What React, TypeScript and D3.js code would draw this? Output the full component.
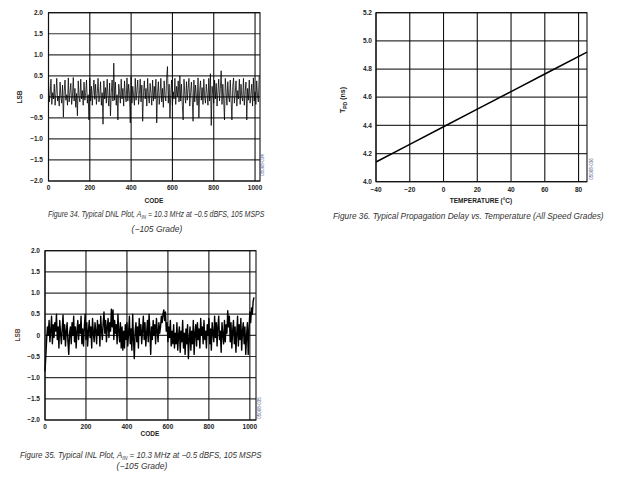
import React, { useLayoutEffect, useRef, useState } from "react";
import * as d3 from "d3";

// ---------- DATA ----------
const DNL_STEP = 4; // codes between samples
const DNL_VALUES = [
  0.38, -0.12, 0.05, 0.42, -0.18, 0.1, -0.05, 0.3, -0.2, 0.08, 0.44, -0.1, 0.02, -0.22, 0.35, 0.0,
  -0.15, 0.28, -0.48, 0.12, 0.4, -0.08, 0.05, -0.2, 0.45, -0.12, 0.1, 0.32, -0.18, 0.02, 0.46, -0.1,
  0.2, -0.25, 0.08, -0.45, 0.38, 0.0, -0.12, 0.42, -0.05, 0.15, -0.2, 0.35, -0.08, 0.1, 0.4, -0.15,
  0.05, -0.55, 0.45, -0.1, 0.25, -0.2, 0.12, 0.4, -0.06, 0.3, -0.18, 0.08, 0.44, -0.12, 0.0, 0.36,
  -0.2, 0.1, -0.65, 0.38, -0.05, 0.22, -0.15, 0.42, 0.02, -0.22, 0.33, -0.45, 0.1, 0.4, -0.1, 0.8,
  -0.08, 0.35, -0.2, 0.05, -0.55, 0.3, 0.12, -0.15, 0.42, -0.05, 0.2, -0.22, 0.38, 0.0, -0.12, 0.45,
  -0.1, 0.3, 0.05, -0.62, 0.48, -0.15, 0.25, 0.02, -0.2, 0.44, -0.08, 0.15, 0.4, -0.18, 0.06, 0.42,
  -0.12, 0.28, -0.58, 0.1, 0.38, -0.05, 0.2, -0.22, 0.44, 0.0, -0.15, 0.32, 0.08, -0.2, 0.4, -0.1,
  0.25, -0.05, 0.42, -0.62, 0.1, 0.36, -0.18, 0.05, 0.44, -0.12, 0.2, -0.25, 0.38, 0.02, -0.1, 0.45,
  0.72, -0.15, 0.3, -0.5, 0.08, 0.4, -0.2, 0.12, -0.05, 0.44, -0.18, 0.25, 0.0, 0.38, -0.12, 0.5,
  -0.1, 0.3, -0.2, -0.55, 0.42, 0.05, -0.15, 0.36, -0.08, 0.2, 0.44, -0.22, 0.1, 0.35, -0.05, -0.58,
  0.4, -0.12, 0.28, 0.02, -0.2, 0.45, -0.5, 0.15, 0.38, -0.08, 0.22, -0.18, 0.42, 0.0, -0.15, 0.3,
  0.08, -0.2, 0.44, -0.1, 0.55, -0.68, 0.25, 0.05, -0.15, 0.4, -0.05, 0.32, -0.22, 0.12, 0.42, -0.1,
  0.2, 0.62, -0.18, 0.3, -0.05, -0.55, 0.44, 0.1, -0.2, 0.36, 0.02, -0.12, 0.4, -0.08, -0.55, 0.25,
  0.45, -0.15, 0.08, 0.38, -0.22, 0.15, -0.05, 0.42, -0.18, 0.3, 0.0, -0.1, 0.44, -0.2, 0.12, 0.35,
  -0.55, 0.2, -0.08, 0.4, -0.15, 0.05, 0.3, -0.22, 0.45, -0.1, 0.12, -0.18, 0.38, 0.02, -0.12, 0.5,
];

const INL_STEP = 4;
const INL_VALUES = [
  -0.85, -0.5, -0.1, 0.2, 0.0, 0.35, -0.15, 0.1, 0.45, -0.2, 0.25, -0.05, 0.3, 0.1, 0.5, -0.1,
  0.2, -0.3, 0.35, 0.05, -0.2, 0.15, 0.48, -0.1, 0.25, -0.25, 0.1, 0.3, -0.15, -0.45, 0.05, 0.2,
  -0.2, 0.3, 0.0, 0.45, -0.15, 0.2, -0.3, 0.1, 0.35, -0.1, 0.25, 0.05, 0.45, -0.2, 0.15, -0.25,
  0.2, 0.5, -0.1, 0.3, -0.25, 0.1, 0.35, -0.05, 0.2, -0.3, 0.4, 0.05, -0.15, 0.3, 0.1, -0.2,
  0.35, 0.0, 0.25, -0.25, 0.45, 0.1, -0.1, 0.3, 0.55, 0.05, 0.35, -0.15, 0.2, 0.4, -0.05, 0.3,
  0.1, 0.62, 0.2, 0.6, -0.1, 0.35, 0.05, 0.25, -0.2, 0.5, 0.1, -0.15, 0.3, -0.3, 0.2, -0.35,
  0.1, -0.3, 0.25, -0.1, 0.3, -0.25, 0.05, 0.45, -0.2, 0.15, -0.35, 0.5, -0.1, -0.55, 0.1, 0.3,
  -0.15, 0.2, -0.3, 0.4, 0.0, 0.25, -0.2, 0.1, 0.45, -0.1, 0.3, -0.25, 0.05, 0.35, -0.15, 0.5,
  0.1, -0.45, 0.2, -0.1, 0.35, 0.0, 0.25, -0.2, 0.4, 0.1, -0.15, 0.3, 0.05, 0.2, 0.45, 0.3,
  0.5, 0.6, 0.35, 0.55, 0.1, 0.3, -0.15, 0.2, -0.05, 0.35, -0.25, 0.1, -0.2, 0.25, -0.3, 0.05,
  -0.2, 0.3, -0.35, 0.0, 0.2, -0.4, 0.1, -0.15, 0.35, -0.3, 0.05, -0.45, 0.15, -0.2, 0.25, -0.55,
  -0.1, 0.2, -0.35, 0.1, -0.2, 0.35, -0.45, 0.05, 0.25, -0.25, 0.3, -0.1, 0.15, -0.3, 0.4, 0.0,
  0.2, -0.2, 0.35, -0.1, 0.1, -0.3, 0.25, 0.0, 0.4, -0.2, 0.15, -0.35, 0.3, 0.05, -0.15, 0.45,
  -0.05, 0.3, -0.25, 0.2, 0.45, -0.1, 0.1, -0.4, 0.3, 0.0, -0.2, 0.35, -0.15, 0.25, 0.05, 0.58,
  0.2, 0.45, -0.15, 0.3, -0.3, 0.1, 0.35, -0.2, 0.2, -0.4, 0.05, 0.45, -0.25, 0.25, -0.1, 0.4,
  -0.35, 0.1, 0.3, -0.2, 0.2, -0.45, 0.0, 0.3, -0.45, 0.15, 0.55, 0.3, 0.65, 0.5, 0.8, 0.9,
];

const TEMP_C = [-40, -20, 0, 20, 40, 60, 85];
const TPD_NS = [4.14, 4.265, 4.39, 4.515, 4.64, 4.765, 4.92];

const CODE_TICKS = [0, 200, 400, 600, 800, 1000];
const LSB_TICKS = [2.0, 1.5, 1.0, 0.5, 0, -0.5, -1.0, -1.5, -2.0];
const TEMP_TICKS = [-40, -20, 0, 20, 40, 60, 80];
const TPD_TICKS = [4.0, 4.2, 4.4, 4.6, 4.8, 5.0, 5.2];

// ---------- helpers ----------
const TICK_FONT = "'Liberation Sans', Arial, sans-serif";
const CAP_FONT = "'Liberation Sans', Arial, sans-serif";

const minus = (s: string) => s.replace("-", "\u2212");
const fmtLsb = (v: number) => (v === 0 ? "0" : minus(v.toFixed(1)));
const fmtInt = (v: number) => minus(String(v));
const fmtTpd = (v: number) => v.toFixed(1);

type PanelProps = {
  left: number; right: number; top: number; bottom: number;
  xDomain: [number, number]; yDomain: [number, number];
  xTicks: number[]; yTicks: number[];
  xFmt: (v: number) => string; yFmt: (v: number) => string;
  xs: number[]; ys: number[];
  lineWidth: number; lineOpacity?: number;
  yLabelRight: number; xLabelY: number;
  figId: string; figIdX: number; figIdY: number;
};

function Panel(p: PanelProps) {
  const x = d3.scaleLinear().domain(p.xDomain).range([p.left, p.right]);
  const y = d3.scaleLinear().domain(p.yDomain).range([p.bottom, p.top]);
  const pts = p.xs.map((xv, i) => [xv, p.ys[i]] as [number, number]);
  const path = d3.line<[number, number]>().x((d) => x(d[0])).y((d) => y(d[1]))(pts) || "";
  return (
    <g>
      {p.yTicks.map((t) => (
        <line key={"hy" + t} x1={p.left} x2={p.right} y1={y(t)} y2={y(t)} stroke="#333" strokeWidth={1.2} />
      ))}
      {p.xTicks.map((t) => (
        <line key={"vx" + t} x1={x(t)} x2={x(t)} y1={p.top} y2={p.bottom} stroke="#111" strokeWidth={1.1} />
      ))}
      <path d={path} fill="none" stroke="#000" strokeWidth={p.lineWidth} strokeOpacity={p.lineOpacity ?? 1} strokeLinejoin="round" />
      <rect x={p.left} y={p.top} width={p.right - p.left} height={p.bottom - p.top} fill="none" stroke="#111" strokeWidth={1.1} />
      {p.yTicks.map((t) => (
        <text key={"yl" + t} x={p.yLabelRight} y={y(t)} dy="0.35em" textAnchor="end"
          fontFamily={TICK_FONT} fontWeight="bold" fontSize={6.5} fill="#222">{p.yFmt(t)}</text>
      ))}
      {p.xTicks.map((t) => (
        <text key={"xl" + t} x={x(t)} y={p.xLabelY} dy="0.35em" textAnchor="middle"
          fontFamily={TICK_FONT} fontWeight="bold" fontSize={6.5} fill="#222">{p.xFmt(t)}</text>
      ))}
      <text transform={`translate(${p.figIdX},${p.figIdY}) rotate(-90)`} textAnchor="middle"
        fontFamily={TICK_FONT} fontSize={4.5} fill="#4a5a8a">{p.figId}</text>
    </g>
  );
}

function Caption({ x1, x2, y, children }: { x1: number; x2: number; y: number; children: React.ReactNode }) {
  const ref = useRef<SVGTextElement>(null);
  const [s, setS] = useState(1);
  useLayoutEffect(() => {
    const el = ref.current;
    if (!el) return;
    const w = el.getComputedTextLength();
    if (w > 0) setS((x2 - x1) / w);
  }, [x1, x2]);
  return (
    <text ref={ref} transform={`translate(${x1},${y}) scale(${s},1)`} dy="0.35em"
      fontFamily={CAP_FONT} fontStyle="italic" fontSize={8.5} fill="#333">{children}</text>
  );
}

export default function App() {
  const dnlCodes = DNL_VALUES.map((_, i) => i * DNL_STEP);
  const inlCodes = INL_VALUES.map((_, i) => i * INL_STEP);
  return (
    <svg width={620} height={486} style={{ position: "absolute", left: 0, top: 0, background: "#fff" }}>
      <rect width={620} height={486} fill="#fff" />
      {/* Figure 34 - DNL */}
      <Panel left={48.5} right={260} top={12.7} bottom={181}
        xDomain={[0, 1024]} yDomain={[-2, 2]} xTicks={CODE_TICKS} yTicks={LSB_TICKS}
        xFmt={fmtInt} yFmt={fmtLsb} xs={dnlCodes} ys={DNL_VALUES} lineWidth={0.85} lineOpacity={0.9}
        yLabelRight={43} xLabelY={188} figId="05068-034" figIdX={264} figIdY={165} />
      <text x={154} y={201} dy="0.35em" textAnchor="middle" fontFamily={TICK_FONT} fontWeight="bold" fontSize={6.5} fill="#222">CODE</text>
      <text transform="translate(20,97) rotate(-90)" dy="0.35em" textAnchor="middle" fontFamily={TICK_FONT} fontWeight="bold" fontSize={6.5} fill="#222">LSB</text>
      <Caption x1={48} x2={265} y={214}>
        Figure 34. Typical DNL Plot, A<tspan fontSize={5.5} dy={2}>IN</tspan><tspan dy={-2}> = 10.3 MHz at −0.5 dBFS, 105 MSPS</tspan>
      </Caption>
      <text x={157} y={229} dy="0.35em" textAnchor="middle" fontFamily={CAP_FONT} fontStyle="italic" fontSize={8.5} fill="#333">(−105 Grade)</text>

      {/* Figure 36 - Propagation delay */}
      <Panel left={376} right={587} top={12.7} bottom={181.7}
        xDomain={[-40, 85]} yDomain={[4.0, 5.2]} xTicks={TEMP_TICKS} yTicks={TPD_TICKS}
        xFmt={fmtInt} yFmt={fmtTpd} xs={TEMP_C} ys={TPD_NS} lineWidth={1.5}
        yLabelRight={372} xLabelY={190} figId="05068-036" figIdX={593} figIdY={169} />
      <text x={481} y={201} dy="0.35em" textAnchor="middle" fontFamily={TICK_FONT} fontWeight="bold" fontSize={6.5} fill="#222">TEMPERATURE (°C)</text>
      <text transform="translate(343,100) rotate(-90)" dy="0.35em" textAnchor="middle" fontFamily={TICK_FONT} fontWeight="bold" fontSize={7} fill="#222">
        T<tspan fontSize={5} dy={1.5}>PD</tspan><tspan dy={-1.5}> (ns)</tspan>
      </text>
      <Caption x1={333} x2={604} y={216}>
        Figure 36. Typical Propagation Delay vs. Temperature (All Speed Grades)
      </Caption>

      {/* Figure 35 - INL */}
      <Panel left={45} right={256} top={250.7} bottom={420}
        xDomain={[0, 1030]} yDomain={[-2, 2]} xTicks={CODE_TICKS} yTicks={LSB_TICKS}
        xFmt={fmtInt} yFmt={fmtLsb} xs={inlCodes} ys={INL_VALUES} lineWidth={1.4}
        yLabelRight={40} xLabelY={426.5} figId="05068-035" figIdX={261} figIdY={408} />
      <text x={150} y={433.5} dy="0.35em" textAnchor="middle" fontFamily={TICK_FONT} fontWeight="bold" fontSize={6.5} fill="#222">CODE</text>
      <text transform="translate(18,335) rotate(-90)" dy="0.35em" textAnchor="middle" fontFamily={TICK_FONT} fontWeight="bold" fontSize={6.5} fill="#5a3a2a">LSB</text>
      <Caption x1={20} x2={262} y={455}>
        Figure 35. Typical INL Plot, A<tspan fontSize={5.5} dy={2}>IN</tspan><tspan dy={-2}> = 10.3 MHz at −0.5 dBFS, 105 MSPS</tspan>
      </Caption>
      <text x={142} y={466} dy="0.35em" textAnchor="middle" fontFamily={CAP_FONT} fontStyle="italic" fontSize={8.5} fill="#333">(−105 Grade)</text>
    </svg>
  );
}
